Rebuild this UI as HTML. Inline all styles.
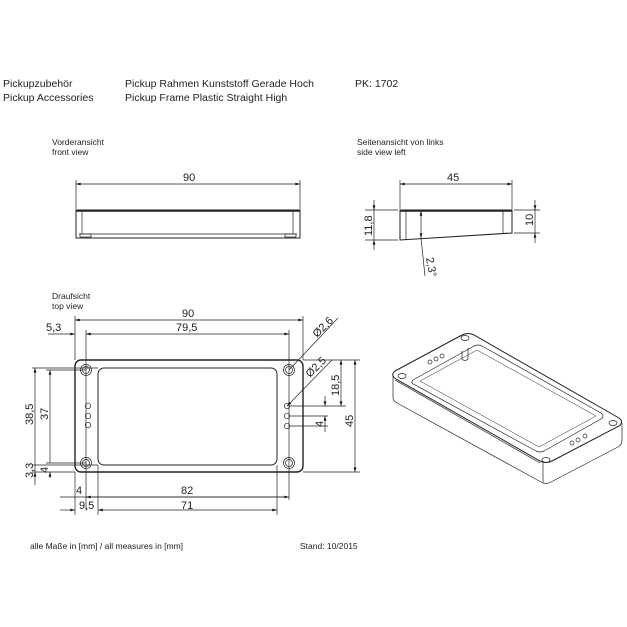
<!DOCTYPE html>
<html><head><meta charset="utf-8"><style>
html,body{margin:0;padding:0;background:#fff}
svg{display:block}
text{font-family:"Liberation Sans",sans-serif;fill:#222}
</style></head><body>
<svg width="627" height="627" viewBox="0 0 627 627" xmlns="http://www.w3.org/2000/svg">
<defs>
<marker id="a" viewBox="0 0 10 6" refX="10" refY="3" markerWidth="8" markerHeight="4" orient="auto-start-reverse"><path d="M0,0L10,3L0,6z" fill="#111"/></marker>
</defs>
<g font-size="10.5">
<text x="3" y="87">Pickupzubehör</text>
<text x="3" y="101">Pickup Accessories</text>
<text x="125" y="87">Pickup Rahmen Kunststoff Gerade Hoch</text>
<text x="125" y="101">Pickup Frame Plastic Straight High</text>
<text x="355" y="87">PK: 1702</text>
</g>
<g font-size="8.5">
<text x="52" y="145">Vorderansicht</text>
<text x="52" y="155">front view</text>
<text x="357" y="145">Seitenansicht von links</text>
<text x="357" y="155">side view left</text>
<text x="52" y="299">Draufsicht</text>
<text x="52" y="309">top view</text>
<text x="30" y="549">alle Maße in [mm] / all measures in [mm]</text>
<text x="300" y="549">Stand: 10/2015</text>
</g>
<g stroke="#222" fill="none" stroke-width="0.7">
<!-- front view -->
<line x1="76" y1="184" x2="300" y2="184" marker-start="url(#a)" marker-end="url(#a)"/>
<line x1="76" y1="180" x2="76" y2="209"/><line x1="300" y1="180" x2="300" y2="209"/>
<rect x="76" y="210" width="224" height="28" stroke-width="1"/>
<line x1="76" y1="211" x2="300" y2="211" stroke-width="1.5"/>
<line x1="82" y1="211" x2="82" y2="234"/><line x1="293" y1="211" x2="293" y2="234"/>
<line x1="79" y1="234" x2="297" y2="234"/>
<rect x="80" y="234" width="11" height="3"/><rect x="285" y="234" width="11" height="3"/>
<!-- side view -->
<line x1="400" y1="184" x2="512" y2="184" marker-start="url(#a)" marker-end="url(#a)"/>
<line x1="400" y1="180" x2="400" y2="209"/><line x1="512" y1="180" x2="512" y2="209"/>
<path d="M400,210L512,210L512,233L400,240Z" stroke-width="1"/>
<line x1="400" y1="211" x2="512" y2="211" stroke-width="1.5"/>
<line x1="406" y1="211" x2="406" y2="240"/><line x1="503" y1="211" x2="503" y2="234"/>
<line x1="365" y1="210" x2="398" y2="210"/><line x1="365" y1="240" x2="398" y2="240"/>
<line x1="374" y1="200" x2="374" y2="210" marker-end="url(#a)"/><line x1="374" y1="250" x2="374" y2="240" marker-end="url(#a)"/>
<line x1="374" y1="210" x2="374" y2="240"/>
<line x1="514" y1="233" x2="540" y2="233"/><line x1="514" y1="210" x2="540" y2="210"/>
<line x1="535" y1="200" x2="535" y2="210" marker-end="url(#a)"/><line x1="535" y1="243" x2="535" y2="233" marker-end="url(#a)"/>
<line x1="535" y1="210" x2="535" y2="233"/>
<line x1="421" y1="211" x2="421" y2="238" marker-start="url(#a)" marker-end="url(#a)"/>
<line x1="421" y1="238" x2="425" y2="276"/>
<!-- top view -->
<rect x="75" y="360" width="228" height="112" rx="6" stroke-width="1.4"/>
<rect x="98" y="368" width="179" height="97" rx="6" stroke-width="1"/>
<circle cx="86" cy="370" r="5.5"/><circle cx="86" cy="370" r="3.5"/>
<circle cx="289" cy="370" r="5.5"/><circle cx="289" cy="370" r="3.5"/>
<circle cx="86" cy="463" r="5.5"/><circle cx="86" cy="463" r="3.5"/>
<circle cx="289" cy="463" r="5.5"/><circle cx="289" cy="463" r="3.5"/>
<circle cx="88" cy="406" r="2.7"/><circle cx="88" cy="416" r="2.7"/><circle cx="88" cy="425" r="2.7"/>
<circle cx="287" cy="406" r="2.7"/><circle cx="287" cy="416" r="2.7"/><circle cx="287" cy="426" r="2.7"/>
<!-- top dims -->
<line x1="75" y1="320" x2="303" y2="320" marker-start="url(#a)" marker-end="url(#a)"/>
<line x1="86" y1="334" x2="289" y2="334" marker-start="url(#a)" marker-end="url(#a)"/>
<line x1="48" y1="334" x2="75" y2="334" marker-end="url(#a)"/>
<line x1="75" y1="316" x2="75" y2="360"/><line x1="303" y1="316" x2="303" y2="360"/>
<line x1="86" y1="330" x2="86" y2="510"/><line x1="289" y1="330" x2="289" y2="500"/>
<line x1="289" y1="370" x2="338" y2="318"/><line x1="287" y1="406" x2="332" y2="360" marker-start="url(#a)"/>
<line x1="303" y1="360" x2="360" y2="360"/><line x1="303" y1="472" x2="360" y2="472"/>
<line x1="355" y1="360" x2="355" y2="472" marker-start="url(#a)" marker-end="url(#a)"/>
<line x1="290" y1="406" x2="346" y2="406"/>
<line x1="341" y1="360" x2="341" y2="406" marker-start="url(#a)" marker-end="url(#a)"/>
<line x1="290" y1="416" x2="328" y2="416"/><line x1="290" y1="426" x2="328" y2="426"/>
<line x1="325" y1="396" x2="325" y2="406" marker-end="url(#a)"/><line x1="325" y1="432" x2="325" y2="416" marker-end="url(#a)"/>
<!-- left dims -->
<line x1="32" y1="368" x2="98" y2="368"/><line x1="46" y1="370" x2="86" y2="370"/>
<line x1="32" y1="472" x2="75" y2="472"/><line x1="32" y1="465" x2="98" y2="465"/><line x1="46" y1="463" x2="86" y2="463"/>
<line x1="35" y1="368" x2="35" y2="472" marker-start="url(#a)"/>
<line x1="35" y1="485" x2="35" y2="472" marker-end="url(#a)"/>
<line x1="50" y1="370" x2="50" y2="463" marker-start="url(#a)"/>
<line x1="50" y1="478" x2="50" y2="472" marker-end="url(#a)"/>
<!-- bottom dims -->
<line x1="75" y1="472" x2="75" y2="515"/><line x1="98" y1="465" x2="98" y2="515"/>
<line x1="277" y1="465" x2="277" y2="515"/>
<line x1="60" y1="497" x2="289" y2="497" marker-end="url(#a)"/>
<line x1="86" y1="497" x2="289" y2="497" marker-start="url(#a)"/>
<line x1="60" y1="510" x2="75" y2="510" marker-end="url(#a)"/>
<line x1="98" y1="510" x2="277" y2="510" marker-start="url(#a)" marker-end="url(#a)"/>
<!-- iso -->
<g stroke-width="0.7">
<path d="M395,371 L462,335 Q468,332 474,335 L619,418 Q624,422 619,426 L552,461 Q546,464 540,461 L396,379 Q390,375 395,371 Z" stroke-width="1"/>
<path d="M393,376 L393,398 Q393,401 397,403 L541,482 Q546,485 551,482 L618,447 Q622,445 622,440 L622,423"/>
<line x1="543" y1="461" x2="543" y2="483"/>
<line x1="395" y1="380" x2="540" y2="463"/>
<path d="M413,380 L474,346 Q478,344 482,346 L601,413 Q605,416 601,419 L544,451 Q540,453 536,451 L415,385 Q410,383 413,380 Z"/>
<path d="M420,381 L477,350 L596,416 L539,447 Z" stroke-width="0.5"/>
<path d="M462,351 L462,359 Q465,362 468,359 L468,348"/>
<ellipse cx="402" cy="376" rx="4" ry="2.5"/><ellipse cx="465" cy="338" rx="4" ry="2.5"/>
<ellipse cx="613" cy="423" rx="4" ry="2.5"/><ellipse cx="546" cy="460" rx="4" ry="2.5"/>
<circle cx="430" cy="362" r="2"/><circle cx="436" cy="359" r="2"/><circle cx="442" cy="356" r="2"/>
<circle cx="572" cy="443" r="2"/><circle cx="578" cy="440" r="2"/><circle cx="585" cy="436" r="2"/>
</g>
</g>
<g font-size="11">
<text x="183" y="181">90</text>
<text x="447" y="181">45</text>
<text transform="translate(372,236) rotate(-90)">11,8</text>
<text transform="translate(533,226) rotate(-90)">10</text>
<text transform="translate(426,258) rotate(80)">2,3°</text>
<text x="182" y="317">90</text>
<text x="176" y="331">79,5</text>
<text x="46" y="331">5,3</text>
<text transform="translate(317,338) rotate(-45)">Ø2,6</text>
<text transform="translate(310,378) rotate(-45)">Ø2,5</text>
<text transform="translate(353,427) rotate(-90)">45</text>
<text transform="translate(339,396) rotate(-90)">18,5</text>
<text transform="translate(323,427) rotate(-90)">4</text>
<text transform="translate(33,425) rotate(-90)">38,5</text>
<text transform="translate(48,420) rotate(-90)">37</text>
<text transform="translate(33,478) rotate(-90)">3,3</text>
<text transform="translate(48,473) rotate(-90)">4</text>
<text x="76" y="494">4</text>
<text x="181" y="494">82</text>
<text x="79" y="509">9,5</text>
<text x="181" y="509">71</text>
</g>
</svg>
</body></html>
